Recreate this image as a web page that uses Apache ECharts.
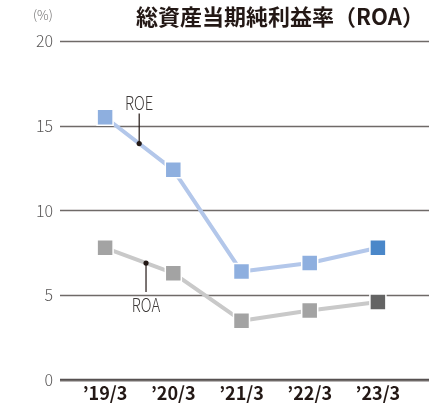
<!DOCTYPE html>
<html>
<head>
<meta charset="utf-8">
<script src="https://cdn.jsdelivr.net/npm/echarts@6/dist/echarts.min.js"></script>
<style>
  html, body { margin: 0; padding: 0; background: #fff; }
  #chartsbox { width: 429px; height: 404px; }
</style>
</head>
<body>
<div id="chartsbox"></div>
<script type="text/javascript">
    var titleText = '総資産当期純利益率（ROA）';
    var unitText = '(%)';
    var aCategory = ['’19/3', '’20/3', '’21/3', '’22/3', '’23/3'];
    var aROE = [15.5, 12.4, 6.4, 6.9, 7.8];
    var aROA = [7.8, 6.3, 3.5, 4.1, 4.6];
    var yTicks = [0, 5, 10, 15, 20];

    var FONT = '"Noto Sans CJK JP", "Noto Sans", sans-serif';

    // 最後の点だけ色を濃くする
    function BuildItems(aValue, sColor, sLastColor) {
        var aItems = [];
        for (var i = 0; i < aValue.length; i++) {
            aItems.push({
                value: aValue[i],
                itemStyle: { color: i == aValue.length - 1 ? sLastColor : sColor }
            });
        }
        return aItems;
    }

    var myChart = echarts.init(document.getElementById('chartsbox'));
    var option = {
        animation: false,
        title: {
            text: titleText,
            left: 275,
            textAlign: 'center',
            top: 1,
            textStyle: { fontFamily: FONT, fontSize: 22, fontWeight: 'bold', color: '#231815' }
        },
        grid: [
            { left: 60, right: 0, top: 41, bottom: 24 },
            { left: 71, right: 17, top: 41, bottom: 24 }
        ],
        xAxis: [
            { type: 'value', gridIndex: 0, show: false, min: 0, max: 1 },
            {
                type: 'category', gridIndex: 1, data: aCategory, boundaryGap: true,
                axisLine: { show: false }, axisTick: { show: false },
                axisLabel: { fontFamily: FONT, fontSize: 18, fontWeight: 'bold', color: '#231815', margin: 4 }
            }
        ],
        yAxis: [
            {
                type: 'value', gridIndex: 0, min: yTicks[0], max: yTicks[yTicks.length - 1], interval: 5,
                axisLine: { show: false }, axisTick: { show: false },
                axisLabel: { fontFamily: FONT, fontSize: 16, fontWeight: 300, color: '#595757', margin: 7 },
                splitLine: { lineStyle: { color: '#6f6a68', width: 1.4 } }
            },
            {
                type: 'value', gridIndex: 1, min: yTicks[0], max: yTicks[yTicks.length - 1], interval: 5,
                show: false
            }
        ],
        graphic: [
            {
                type: 'text', left: 33, top: 9,
                style: { text: unitText, font: '300 13px ' + FONT, fill: '#727171' }
            },
            {
                type: 'line', shape: { x1: 60, y1: 380, x2: 429, y2: 380 },
                style: { stroke: '#4c4948', lineWidth: 2.5 }
            }
        ],
        series: [
            {
                name: 'ROE', type: 'line', xAxisIndex: 1, yAxisIndex: 1,
                data: BuildItems(aROE, '#8eafdf', '#4a87c9'),
                symbol: 'rect', symbolSize: 16,
                itemStyle: { borderColor: '#fff', borderWidth: 1.5 },
                lineStyle: { color: '#b3c7ea', width: 4 }
            },
            {
                name: 'ROA', type: 'line', xAxisIndex: 1, yAxisIndex: 1,
                data: BuildItems(aROA, '#a3a3a3', '#646464'),
                symbol: 'rect', symbolSize: 16,
                itemStyle: { borderColor: '#fff', borderWidth: 1.5 },
                lineStyle: { color: '#c9c9c9', width: 4 }
            }
        ]
    };
    myChart.setOption(option);

    // 系列名の引き出し線
    function Leader(aValue, t, sName, iLen, bUp) {
        var p0 = myChart.convertToPixel({ seriesIndex: 0 }, [0, aValue[0]]);
        var p1 = myChart.convertToPixel({ seriesIndex: 0 }, [1, aValue[1]]);
        var x = p0[0] + (p1[0] - p0[0]) * t;
        var y = p0[1] + (p1[1] - p0[1]) * t;
        var yEnd = bUp ? y - iLen : y + iLen;
        return [
            { type: 'line', shape: { x1: x, y1: y, x2: x, y2: yEnd }, style: { stroke: '#231815', lineWidth: 1.2 }, z: 10 },
            { type: 'circle', shape: { cx: x, cy: y, r: 2.6 }, style: { fill: '#231815' }, z: 10 },
            {
                type: 'text', x: x, y: bUp ? yEnd - 1 : yEnd + 3, z: 10, scaleX: 0.78, originX: 0, originY: 0,
                style: { text: sName, font: '300 19px ' + FONT, fill: '#3e3a39', align: 'center', verticalAlign: bUp ? 'bottom' : 'top' }
            }
        ];
    }
    var aGraphic = option.graphic.concat(Leader(aROE, 0.5, 'ROE', 30, true), Leader(aROA, 0.6, 'ROA', 29, false));
    myChart.setOption({ graphic: aGraphic });
</script>
</body>
</html>
